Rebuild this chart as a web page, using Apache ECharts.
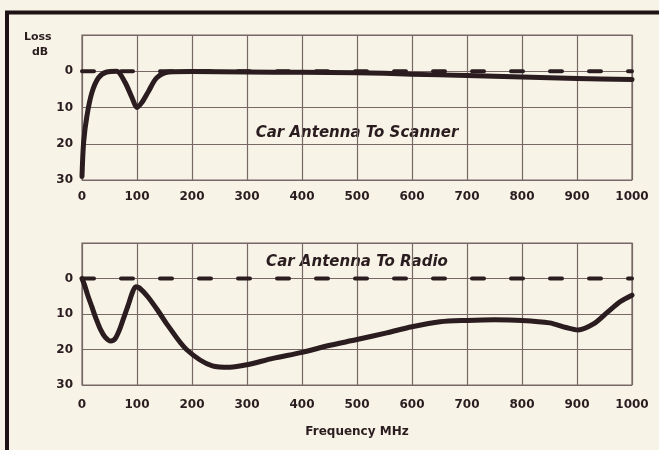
<!DOCTYPE html>
<html><head><meta charset="utf-8">
<script src="https://cdn.jsdelivr.net/npm/echarts@6/dist/echarts.min.js"></script>
<style>html,body{margin:0;padding:0;background:#f7f3e6;}#c{width:659px;height:450px;}</style>
</head><body><div id="c"></div>
<script>
const xTicks = [0,100,200,300,400,500,600,700,800,900,1000];
const yTicks = [0,10,20,30];
const scannerFreq = [0, 3, 9, 18, 30, 45, 63, 78, 91, 100, 109, 121, 136, 158, 200, 300, 400, 500, 600, 700, 800, 900, 1000];
const scannerLoss = [29, 19.5, 12.3, 5.9, 1.8, 0.2, 0, 3, 7.3, 10, 8.6, 5.5, 1.8, 0.2, 0.1, 0.2, 0.3, 0.4, 0.8, 1.2, 1.6, 2.0, 2.3];
const radioFreq = [0, 5, 10, 18, 26, 34, 42, 52, 60, 68, 76, 84, 92, 98, 104, 120, 140, 156, 190, 237, 269, 300, 347, 400, 451, 500, 554, 600, 651, 700, 750, 800, 850, 880, 902, 930, 954, 979, 1000];
const radioLoss = [0, 2, 4.5, 8, 11.5, 14.5, 16.5, 17.6, 17, 14.5, 11, 7.5, 3.8, 2.3, 2.6, 5.2, 9.5, 13.2, 20, 24.6, 25, 24.3, 22.5, 20.8, 18.8, 17.2, 15.3, 13.6, 12.2, 11.8, 11.6, 11.8, 12.5, 13.8, 14.5, 12.8, 9.7, 6.5, 4.7];
const refFreq = [0, 1000];
const refLoss = [0, 0];
const titles = ['Car Antenna To Scanner', 'Car Antenna To Radio'];

const ink = '#2a1c1f';
const gridC = '#776765';
const font = 'DejaVu Sans';

function zip(a, b) { return a.map((v, i) => [v, b[i]]); }

function xAxis(idx, margin) {
  return {
    gridIndex: idx, type: 'value', min: 0, max: 1000, interval: 100,
    axisLine: { show: false }, axisTick: { show: false },
    splitLine: { show: true, lineStyle: { color: gridC, width: 1.2 } },
    axisLabel: { margin: margin, color: ink, fontFamily: font, fontWeight: 'bold', fontSize: 12,
      formatter: v => (xTicks.indexOf(v) >= 0 ? String(v) : '') }
  };
}
function yAxis(idx) {
  return {
    gridIndex: idx, type: 'value', min: -10, max: 30, interval: 10, inverse: true,
    axisLine: { show: false }, axisTick: { show: false },
    splitLine: { show: true, lineStyle: { color: gridC, width: 1.2 } },
    axisLabel: { margin: 9, color: ink, fontFamily: font, fontWeight: 'bold', fontSize: 12,
      formatter: v => (yTicks.indexOf(v) >= 0 ? String(v) : '') }
  };
}
function curve(idx, data) {
  return { type: 'line', xAxisIndex: idx, yAxisIndex: idx, data: data, smooth: 0.3,
    showSymbol: false, symbol: 'none', lineStyle: { color: ink, width: 5, cap: 'round', join: 'round' }, z: 3, animation: false };
}
function dashed(idx) {
  return { type: 'line', xAxisIndex: idx, yAxisIndex: idx, data: zip(refFreq, refLoss),
    showSymbol: false, symbol: 'none',
    lineStyle: { color: ink, width: 4, type: [12, 27], cap: 'round' }, z: 4, animation: false };
}

const chart = echarts.init(document.getElementById('c'));
chart.setOption({
  backgroundColor: '#f7f3e6',
  animation: false,
  grid: [
    { left: 82, right: 27, top: 35, height: 145, show: true, borderColor: gridC, borderWidth: 1.2, backgroundColor: 'transparent' },
    { left: 82, right: 27, top: 243, height: 142, show: true, borderColor: gridC, borderWidth: 1.2, backgroundColor: 'transparent' }
  ],
  xAxis: [xAxis(0, 11), xAxis(1, 14)],
  yAxis: [yAxis(0), yAxis(1)],
  series: [
    curve(0, zip(scannerFreq, scannerLoss)), dashed(0),
    curve(1, zip(radioFreq, radioLoss)), dashed(1)
  ],
  graphic: [
    { type: 'line', shape: { x1: 5, y1: 12.5, x2: 659, y2: 12.5 }, style: { stroke: '#1e1214', lineWidth: 4 } },
    { type: 'line', shape: { x1: 7, y1: 11, x2: 7, y2: 450 }, style: { stroke: '#1e1214', lineWidth: 4 } },
    { type: 'text', left: 24, top: 32, style: { text: 'Loss', fill: ink, font: 'bold 11px "DejaVu Sans"', textAlign: 'left' } },
    { type: 'text', left: 32, top: 47, style: { text: 'dB', fill: ink, font: 'bold 11px "DejaVu Sans"', textAlign: 'left' } },
    { type: 'text', x: 357, y: 133, style: { text: titles[0], fill: ink, font: 'italic bold 15px "DejaVu Sans"', textAlign: 'center', textVerticalAlign: 'middle' } },
    { type: 'text', x: 357, y: 262, style: { text: titles[1], fill: ink, font: 'italic bold 15px "DejaVu Sans"', textAlign: 'center', textVerticalAlign: 'middle' } },
    { type: 'text', x: 357, y: 432, style: { text: 'Frequency MHz', fill: ink, font: 'bold 12px "DejaVu Sans"', textAlign: 'center', textVerticalAlign: 'middle' } }
  ]
});
</script>
</body></html>
